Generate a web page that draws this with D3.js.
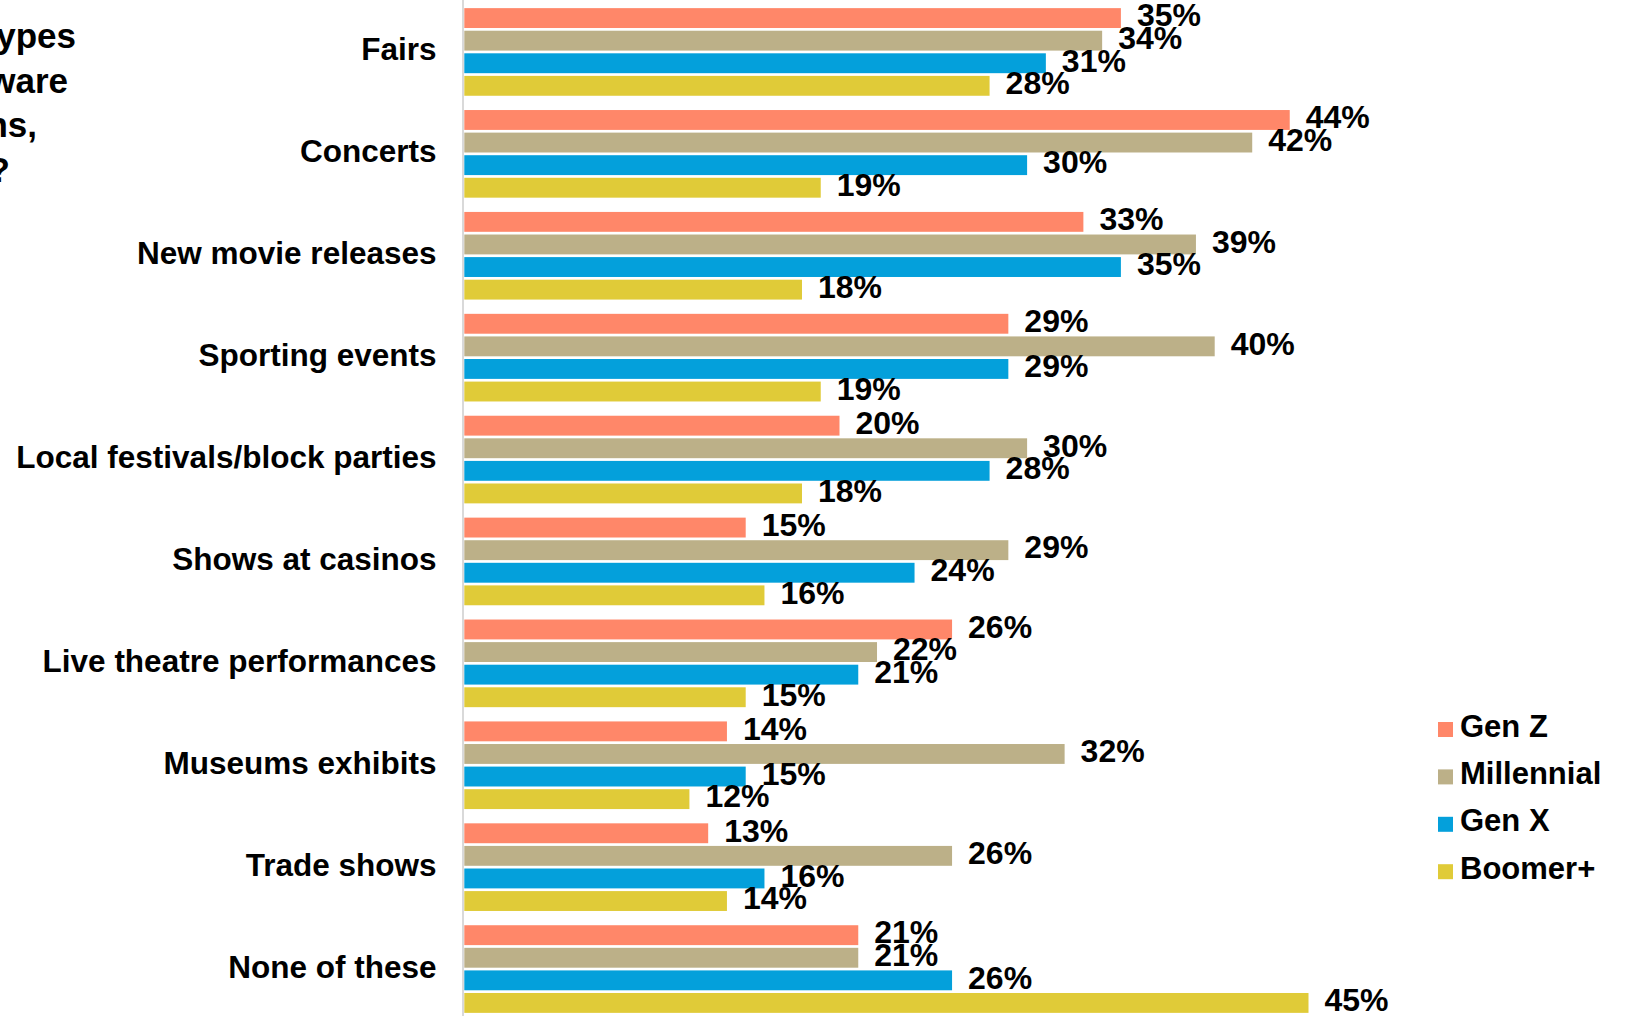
<!DOCTYPE html>
<html>
<head>
<meta charset="utf-8">
<script src="https://cdn.jsdelivr.net/npm/d3@7"></script>
<style>
  html, body { margin: 0; padding: 0; background: #fff; overflow: hidden; }
  svg { display: block; font-family: "Liberation Sans", Arial, Helvetica, sans-serif; font-weight: bold; }
</style>
</head>
<body>
<svg id="chart" width="1626" height="1016"></svg>
<script>
// Event types and share of each generation that attends them (%)
const categories = [
  "Fairs", "Concerts", "New movie releases", "Sporting events",
  "Local festivals/block parties", "Shows at casinos",
  "Live theatre performances", "Museums exhibits", "Trade shows", "None of these"
];
const genZ       = [35, 44, 33, 29, 20, 15, 26, 14, 13, 21];
const millennial = [34, 42, 39, 40, 30, 29, 22, 32, 26, 21];
const genX       = [31, 30, 35, 29, 28, 24, 21, 15, 16, 26];
const boomer     = [28, 19, 18, 19, 18, 16, 15, 12, 14, 45];

const seriesNames  = ["Gen Z", "Millennial", "Gen X", "Boomer+"];
const seriesValues = [genZ, millennial, genX, boomer];
const seriesColors = ["#FF8769", "#BCB088", "#04A0DB", "#E0CB38"];

const titleLines = ["Which of these event types", "are you typically aware", "of brand promotions,", "if any?"];

const svg = d3.select("#chart");

// Scales
const y0 = d3.scaleBand()
  .domain(categories)
  .range([1, 1020])
  .paddingInner(0.14)
  .paddingOuter(0.07);

const y1 = d3.scaleBand()
  .domain(seriesNames)
  .range([0, y0.bandwidth()])
  .paddingInner(0.12);

const x = d3.scaleLinear()
  .domain([0, 50])
  .range([464.3, 464.3 + 938]);

// Partially visible title block on the left
svg.append("g")
  .selectAll("text")
  .data(titleLines)
  .join("text")
  .attr("x", (d, i) => [76, 68, 37, 10][i])
  .attr("y", (d, i) => 48 + i * 44.5)
  .attr("text-anchor", "end")
  .attr("font-size", 35)
  .attr("fill", "#000")
  .text(d => d);

// Category axis line
svg.append("line")
  .attr("x1", x(0) - 1.3).attr("x2", x(0) - 1.3)
  .attr("y1", 0).attr("y2", 1016)
  .attr("stroke", "#D9D9D9")
  .attr("stroke-width", 2);

// Category labels
svg.append("g")
  .selectAll("text")
  .data(categories)
  .join("text")
  .attr("x", 436.5)
  .attr("y", d => y0(d) + y0.bandwidth() / 2)
  .attr("dy", "0.27em")
  .attr("text-anchor", "end")
  .attr("font-size", 31.5)
  .attr("fill", "#000")
  .text(d => d);

// Bars and value labels
const rows = [];
categories.forEach((c, ci) => {
  seriesNames.forEach((s, si) => {
    rows.push({ cat: c, series: s, value: seriesValues[si][ci], color: seriesColors[si] });
  });
});

const groups = svg.append("g");

groups.selectAll("rect")
  .data(rows)
  .join("rect")
  .attr("x", x(0))
  .attr("y", d => y0(d.cat) + y1(d.series))
  .attr("width", d => x(d.value) - x(0))
  .attr("height", y1.bandwidth())
  .attr("fill", d => d.color);

groups.selectAll("text")
  .data(rows)
  .join("text")
  .attr("x", d => x(d.value) + 16)
  .attr("y", d => y0(d.cat) + y1(d.series) + y1.bandwidth() / 2)
  .attr("dy", "0.26em")
  .attr("font-size", 32)
  .attr("fill", "#000")
  .text(d => d.value + "%");

// Legend
const legend = svg.append("g")
  .attr("transform", "translate(1438, 722)");

const item = legend.selectAll("g")
  .data(seriesNames)
  .join("g")
  .attr("transform", (d, i) => `translate(0, ${i * 47.4})`);

item.append("rect")
  .attr("width", 15)
  .attr("height", 15)
  .attr("fill", (d, i) => seriesColors[i]);

item.append("text")
  .attr("x", 22)
  .attr("y", 14.5)
  .attr("font-size", 31)
  .attr("fill", "#000")
  .text(d => d);
</script>
</body>
</html>
